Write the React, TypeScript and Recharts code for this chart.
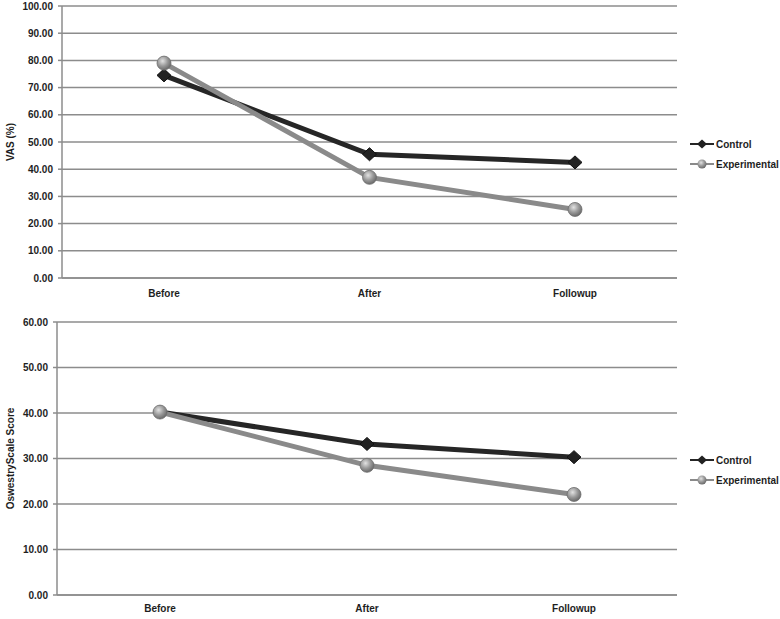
import { CartesianGrid, Line, LineChart, XAxis, YAxis } from "recharts";

const categories = ["Before", "After", "Followup"];
const vasControl = [74.5, 45.5, 42.5];
const vasExperimental = [79.0, 37.0, 25.2];
const odiControl = [40.2, 33.2, 30.3];
const odiExperimental = [40.2, 28.5, 22.1];
const vasTicks = [0, 10, 20, 30, 40, 50, 60, 70, 80, 90, 100];
const odiTicks = [0, 10, 20, 30, 40, 50, 60];

const DARK = "#262626";
const GRAY = "#8a8a8a";
const GRID = "#8c8c8c";
const FONT = "'Liberation Sans', Arial, sans-serif";

const tickStyle = { fontSize: 10, fontWeight: 700, fill: "#1e1e1e", fontFamily: FONT };

const Diamond = (props: any) => {
  const { cx, cy } = props;
  if (cx == null || cy == null) return null;
  return (
    <path
      d={`M${cx - 7},${cy} L${cx},${cy - 6.5} L${cx + 7},${cy} L${cx},${cy + 6.5} Z`}
      fill="#222"
      stroke="#111"
      strokeWidth={1}
    />
  );
};

const Sphere = (props: any) => {
  const { cx, cy } = props;
  if (cx == null || cy == null) return null;
  return <circle cx={cx} cy={cy} r={7} fill="url(#sphereGrad)" stroke="#6e6e6e" strokeWidth={0.8} />;
};

const Defs = () => (
  <defs>
    <radialGradient id="sphereGrad" cx="40%" cy="35%" r="65%">
      <stop offset="0%" stopColor="#e2e2e2" />
      <stop offset="55%" stopColor="#9a9a9a" />
      <stop offset="100%" stopColor="#6a6a6a" />
    </radialGradient>
  </defs>
);

const LegendBox = ({ top }: { top: number }) => (
  <div style={{ position: "absolute", left: 690, top, fontFamily: FONT, fontSize: 10, fontWeight: 700, color: "#1e1e1e" }}>
    <div style={{ display: "flex", alignItems: "center", height: 20 }}>
      <svg width={24} height={14}>
        <line x1={0} y1={7} x2={24} y2={7} stroke={DARK} strokeWidth={2} />
        <path d="M7,7 L12,2.5 L17,7 L12,11.5 Z" fill="#222" />
      </svg>
      <span style={{ marginLeft: 2 }}>Control</span>
    </div>
    <div style={{ display: "flex", alignItems: "center", height: 20 }}>
      <svg width={24} height={14}>
        <line x1={0} y1={7} x2={24} y2={7} stroke={GRAY} strokeWidth={2} />
        <circle cx={12} cy={7} r={4.5} fill="url(#sphereGradL)" />
        <defs>
          <radialGradient id="sphereGradL" cx="40%" cy="35%" r="65%">
            <stop offset="0%" stopColor="#e2e2e2" />
            <stop offset="55%" stopColor="#9a9a9a" />
            <stop offset="100%" stopColor="#6a6a6a" />
          </radialGradient>
        </defs>
      </svg>
      <span style={{ marginLeft: 2 }}>Experimental</span>
    </div>
  </div>
);

const Panel = ({
  control,
  experimental,
  ticks,
  max,
  title,
  height,
  margin,
  yWidth,
  tickMargin,
  pad,
}: {
  control: number[];
  experimental: number[];
  ticks: number[];
  max: number;
  title: string;
  height: number;
  margin: { top: number; right: number; bottom: number; left: number };
  yWidth: number;
  tickMargin: number;
  pad: number;
}) => {
  const data = categories.map((c, i) => ({ name: c, Control: control[i], Experimental: experimental[i] }));
  return (
    <LineChart width={780} height={height} data={data} margin={margin}>
      <Defs />
      <CartesianGrid vertical={false} stroke={GRID} strokeWidth={1.5} />
      <XAxis
        dataKey="name"
        tick={tickStyle}
        tickLine={false}
        axisLine={{ stroke: GRID, strokeWidth: 1.5 }}
        tickMargin={tickMargin}
        padding={{ left: pad, right: pad }}
        height={20}
      />
      <YAxis
        domain={[0, max]}
        ticks={ticks}
        interval={0}
        tickFormatter={(v: number) => v.toFixed(2)}
        tick={tickStyle}
        tickSize={4}
        tickMargin={5}
        tickLine={{ stroke: GRID, strokeWidth: 1.5 }}
        axisLine={{ stroke: GRID, strokeWidth: 1.5 }}
        width={yWidth}
        label={{
          value: title,
          angle: -90,
          position: "insideLeft",
          offset: 0,
          style: { ...tickStyle, textAnchor: "middle" },
        }}
      />
      <Line
        type="linear"
        dataKey="Control"
        stroke={DARK}
        strokeWidth={5}
        dot={<Diamond />}
        activeDot={false}
        isAnimationActive={false}
      />
      <Line
        type="linear"
        dataKey="Experimental"
        stroke={GRAY}
        strokeWidth={5}
        dot={<Sphere />}
        activeDot={false}
        isAnimationActive={false}
      />
    </LineChart>
  );
};

export default function App() {
  return (
    <div style={{ position: "absolute", left: 0, top: 0, width: 780, height: 619, background: "#fff" }}>
      <Panel
        control={vasControl}
        experimental={vasExperimental}
        ticks={vasTicks}
        max={100}
        title="VAS (%)"
        height={310}
        margin={{ top: 6, right: 103, bottom: 12, left: 10 }}
        yWidth={52}
        tickMargin={6}
        pad={102}
      />
      <Panel
        control={odiControl}
        experimental={odiExperimental}
        ticks={odiTicks}
        max={60}
        title="OswestryScale Score"
        height={309}
        margin={{ top: 12, right: 103, bottom: 4, left: 10 }}
        yWidth={47}
        tickMargin={4}
        pad={103}
      />
      <LegendBox top={134} />
      <LegendBox top={450} />
    </div>
  );
}
